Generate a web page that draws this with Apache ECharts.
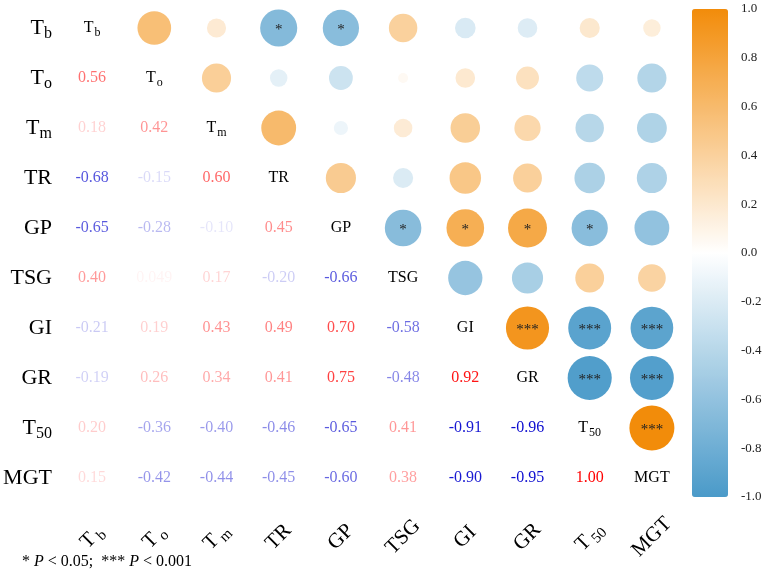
<html>

<head>
    <meta charset='UTF-8'>
    <script src='https://cdn.jsdelivr.net/npm/echarts@6/dist/echarts.min.js'></script>
    <style>
        html, body { margin: 0; padding: 0; background: #fff; }
        #chart { width: 771px; height: 577px; }
    </style>
</head>

<body>
    <div id="chart"></div>
    <script>
        // variable names, split into main text + subscript
        const names = ['Tb', 'To', 'Tm', 'TR', 'GP', 'TSG', 'GI', 'GR', 'T50', 'MGT']
        const mainText = ['T', 'T', 'T', 'TR', 'GP', 'TSG', 'GI', 'GR', 'T', 'MGT']
        const subText = ['b', 'o', 'm', '', '', '', '', '', '50', '']

        // lower triangle of the correlation matrix, row i = names[i + 1]
        const corrRows = [
            [0.56],
            [0.18, 0.42],
            [-0.68, -0.15, 0.60],
            [-0.65, -0.28, -0.10, 0.45],
            [0.40, 0.049, 0.17, -0.20, -0.66],
            [-0.21, 0.19, 0.43, 0.49, 0.70, -0.58],
            [-0.19, 0.26, 0.34, 0.41, 0.75, -0.48, 0.92],
            [0.20, -0.36, -0.40, -0.46, -0.65, 0.41, -0.91, -0.96],
            [0.15, -0.42, -0.44, -0.45, -0.60, 0.38, -0.90, -0.95, 1.00]
        ]
        // significance: 0 none, 1 P<0.05, 3 P<0.001
        const sigRows = [
            [0],
            [0, 0],
            [1, 0, 0],
            [1, 0, 0, 0],
            [0, 0, 0, 0, 1],
            [0, 0, 0, 0, 1, 0],
            [0, 0, 0, 0, 1, 0, 3],
            [0, 0, 0, 0, 1, 0, 3, 3],
            [0, 0, 0, 0, 0, 0, 3, 3, 3]
        ]
        const barTicks = { min: -1, max: 1, step: 0.2 }

        const serif = 'Liberation Serif'
        const starText = { 0: '', 1: '*', 3: '***' }

        const circles = []
        const numbers = []
        corrRows.forEach((row, k) => {
            const i = k + 1
            row.forEach((r, j) => {
                // upper triangle: x = i, y = j
                circles.push({ value: [i, j, r], star: starText[sigRows[k][j]] })
                const a = Math.abs(r)
                numbers.push({
                    value: [j, i, r],
                    label: { color: r >= 0 ? `rgba(255,0,0,${a})` : `rgba(0,0,205,${a})` }
                })
            })
        })
        const diag = names.map((n, i) => [i, i])

        function richName(i) {
            return subText[i] ? `{m|${mainText[i]}}{s|${subText[i]}}` : `{m|${mainText[i]}}`
        }
        function fmt(v) {
            return Math.abs(v) >= 0.1 ? v.toFixed(2) : v.toPrecision(2)
        }

        const chart = echarts.init(document.getElementById('chart'))
        chart.setOption({
            backgroundColor: '#fff',
            textStyle: { fontFamily: serif },
            grid: [
                { left: 61, top: 3, width: 622, height: 500 },
                { left: 692, top: 9, width: 36, height: 488 }
            ],
            xAxis: [{
                type: 'category', data: names, gridIndex: 0,
                axisLine: { show: false }, axisTick: { show: false }, splitLine: { show: false },
                axisLabel: {
                    interval: 0, rotate: 45, align: 'center', verticalAlign: 'middle', margin: 34,
                    formatter: (v, i) => richName(i),
                    rich: {
                        m: { fontFamily: serif, fontSize: 21, color: '#000' },
                        s: { fontFamily: serif, fontSize: 15, color: '#000', padding: [12, 0, 0, 3] }
                    }
                }
            }, {
                type: 'value', gridIndex: 1, show: false
            }],
            yAxis: [{
                type: 'category', data: names, inverse: true, gridIndex: 0,
                axisLine: { show: false }, axisTick: { show: false }, splitLine: { show: false },
                axisLabel: {
                    interval: 0, margin: 9,
                    formatter: (v, i) => richName(i),
                    rich: {
                        m: { fontFamily: serif, fontSize: 22, color: '#000' },
                        s: { fontFamily: serif, fontSize: 16, color: '#000', padding: [12, 0, 0, 0] }
                    }
                }
            }, {
                type: 'value', gridIndex: 1, position: 'right',
                min: barTicks.min, max: barTicks.max, interval: barTicks.step,
                axisLine: { show: false }, axisTick: { show: false }, splitLine: { show: false },
                axisLabel: {
                    margin: 13, fontFamily: serif, fontSize: 13, color: '#222',
                    formatter: v => v.toFixed(1)
                }
            }],
            visualMap: {
                type: 'continuous', seriesIndex: 0, dimension: 2,
                min: barTicks.min, max: barTicks.max,
                left: 692, top: 9, itemWidth: 36, itemHeight: 488, padding: 0,
                calculable: false, text: null, showLabel: false,
                inRange: { color: ['#4a9ac9', '#ffffff', '#f28c0a'] }
            },
            series: [{
                type: 'scatter', name: 'circles', data: circles,
                symbolSize: v => 45 * Math.sqrt(Math.abs(v[2])),
                itemStyle: { opacity: 1 },
                label: {
                    show: true, position: 'inside', color: '#222', fontSize: 15, fontFamily: serif,
                    offset: [0, 2],
                    formatter: p => p.data.star
                },
                emphasis: { disabled: true }
            }, {
                type: 'scatter', name: 'numbers', data: numbers, symbolSize: 0,
                itemStyle: { opacity: 1 },
                label: {
                    show: true, position: 'inside', fontSize: 16, fontFamily: serif,
                    formatter: p => fmt(p.value[2])
                },
                emphasis: { disabled: true }
            }, {
                type: 'scatter', name: 'diag', data: diag, symbolSize: 0,
                itemStyle: { opacity: 1 },
                label: {
                    show: true, position: 'inside',
                    formatter: p => richName(p.value[0]),
                    rich: {
                        m: { fontFamily: serif, fontSize: 16, color: '#000' },
                        s: { fontFamily: serif, fontSize: 12, color: '#000', padding: [9, 0, 0, 1] }
                    }
                },
                emphasis: { disabled: true }
            }],
            graphic: [{
                type: 'text', left: 22, top: 554,
                style: {
                    text: '* {i|P} < 0.05;  *** {i|P} < 0.001',
                    fontFamily: serif, fontSize: 16, fill: '#000',
                    rich: { i: { fontFamily: serif, fontStyle: 'italic', fontSize: 16 } }
                }
            }]
        })
    </script>
</body>

</html>
